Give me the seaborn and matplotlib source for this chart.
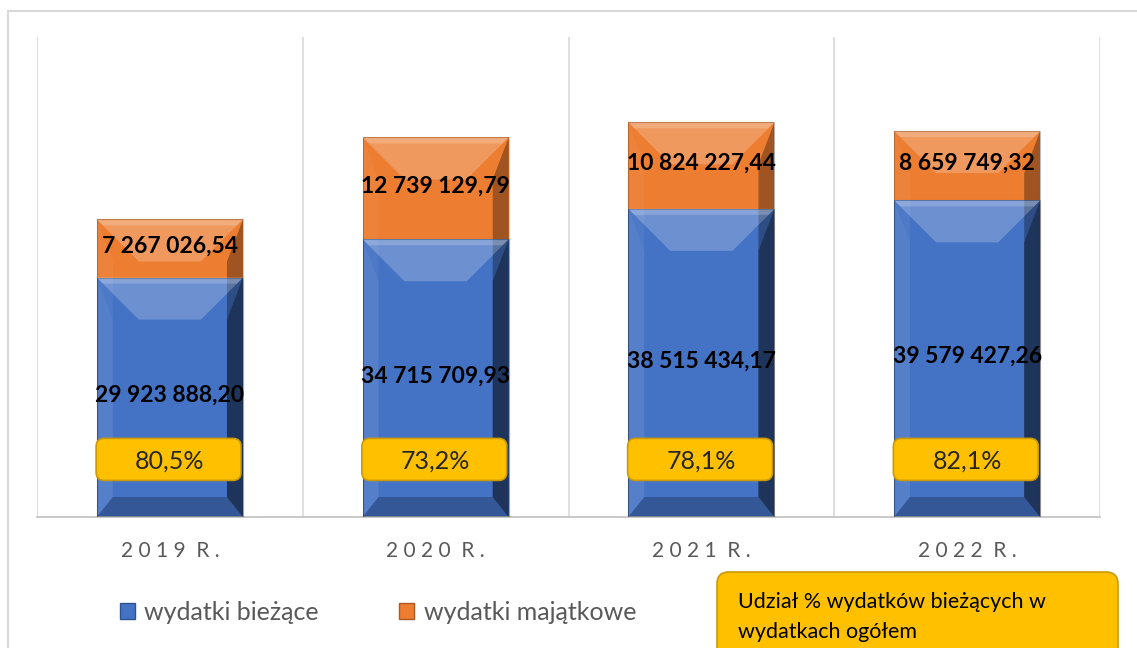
import matplotlib
matplotlib.use("Agg")
import matplotlib.pyplot as plt
import seaborn as sns
import pandas as pd
from matplotlib.patches import Polygon, FancyBboxPatch, Rectangle, Patch

years = ["2019 R.", "2020 R.", "2021 R.", "2022 R."]
biezace = [29923888.20, 34715709.93, 38515434.17, 39579427.26]
majatkowe = [7267026.54, 12739129.79, 10824227.44, 8659749.32]
udzial = ["80,5%", "73,2%", "78,1%", "82,1%"]

BLUE = "#4472C4"
ORANGE = "#ED7D31"
YELLOW = "#FFC000"
FONT = ["Lato", "DejaVu Sans"]


def fmt(v):
    s = f"{v:,.2f}"
    return s.replace(",", " ").replace(".", ",")


def bevel(ax, patch, px_x, px_y):
    x0, y0 = patch.get_x(), patch.get_y()
    w, h = patch.get_width(), patch.get_height()
    hpx = h / px_y
    d = min(42, hpx / 2.6)
    dx, dy = d * px_x, d * px_y
    sx = 16 * px_x
    by = min(20, hpx / 5) * px_y
    x1, y1 = x0 + w, y0 + h
    faces = [
        # top: lighter slope
        ([(x0, y1), (x1, y1), (x1 - dx, y1 - dy), (x0 + dx, y1 - dy)], "white", 0.22),
        # right: dark edge
        ([(x1, y1), (x1, y0), (x1 - sx, y0 + by), (x1 - sx, y1 - dy)], "black", 0.32),
        # bottom
        ([(x0, y0), (x1, y0), (x1 - sx, y0 + by), (x0 + sx, y0 + by)], "black", 0.12),
        # left
        ([(x0, y1), (x0, y0), (x0 + sx, y0 + by), (x0 + sx, y1 - dy)], "white", 0.05),
    ]
    for pts, c, a in faces:
        ax.add_patch(Polygon(pts, closed=True, fc=c, ec="none", alpha=a, zorder=3))
    # thin inner highlight along the top edge
    ax.add_patch(Polygon([(x0, y1), (x1, y1), (x1 - 6 * px_x, y1 - 6 * px_y),
                          (x0 + 6 * px_x, y1 - 6 * px_y)],
                         closed=True, fc="white", ec="none", alpha=0.18, zorder=3))
    ax.add_patch(Rectangle((x0, y0), w, h, fc="none", ec=(0, 0, 0, 0.2), lw=0.8, zorder=3))


if __name__ == "__main__":
    sns.set_theme(style="white")
    plt.rcParams["font.family"] = FONT

    df = pd.DataFrame({"rok": years, "biezace": biezace, "majatkowe": majatkowe})
    df["razem"] = df["biezace"] + df["majatkowe"]

    fig = plt.figure(figsize=(11.37, 6.48), dpi=100)
    W, H = 1137, 648
    ax = fig.add_axes([37 / W, 1 - 517 / H, (1100 - 37) / W, (517 - 37) / H])

    sns.barplot(data=df, x="rok", y="razem", color=ORANGE, width=0.55, saturation=1, ax=ax, zorder=2)
    sns.barplot(data=df, x="rok", y="biezace", color=BLUE, width=0.55, saturation=1, ax=ax, zorder=2)

    ax.set_xlim(-0.5, 3.5)
    ax.set_ylim(0, 60_000_000)
    px_x = 4 / (1100 - 37)
    px_y = 60_000_000 / (517 - 37)

    for p in ax.patches[:]:
        p.set_edgecolor("none")
        bevel(ax, p, px_x, px_y)

    # category gridlines
    for b in [-0.5, 0.5, 1.5, 2.5, 3.5]:
        ax.axvline(b, color="#D9D9D9", lw=1.2, zorder=1)
    for s in ["top", "right", "left"]:
        ax.spines[s].set_visible(False)
    ax.spines["bottom"].set_color("#BFBFBF")
    ax.spines["bottom"].set_linewidth(1.2)

    ax.set_yticks([])
    ax.set_xlabel("")
    ax.set_ylabel("")
    ax.set_xticks(range(len(years)))
    ax.set_xticklabels([" ".join(y.replace(" ", "")).replace(" R", "  R") for y in years],
                       color="#595959", fontsize=15)
    ax.tick_params(axis="x", length=0, pad=17)

    for i in range(len(years)):
        b, m = biezace[i], majatkowe[i]
        ax.text(i, b / 2 + 0.25e6, fmt(b), ha="center", va="center", fontsize=16.5,
                fontweight="bold", color="black", zorder=5)
        ax.text(i, b + m / 2 + 0.3e6, fmt(m), ha="center", va="center", fontsize=16.5,
                fontweight="bold", color="black", zorder=5)
        bw, bh = 0.545, 42 * px_y
        cy = 7.2e6
        box = FancyBboxPatch((i - bw / 2 - 0.005, cy - bh / 2), bw, bh,
                             boxstyle=f"round,pad=0,rounding_size={8 * px_x}",
                             mutation_aspect=px_y / px_x, fc=YELLOW, ec="#C99A06",
                             lw=1.2, zorder=4)
        ax.add_patch(box)
        ax.text(i, cy - 0.2e6, udzial[i], ha="center", va="center", fontsize=18,
                color="#262626", zorder=5)

    handles = [Patch(fc=BLUE, ec="#2F528F"), Patch(fc=ORANGE, ec="#B0581E")]
    fig.legend(handles, ["wydatki bieżące", "wydatki majątkowe"], loc="center left",
               bbox_to_anchor=(97 / W, 1 - 612 / H), ncol=2, frameon=False,
               fontsize=18, labelcolor="#595959", handlelength=0.6, handleheight=0.6,
               handletextpad=0.4, columnspacing=3.2)

    # note box bottom right
    note = FancyBboxPatch((717 / W, -20 / H), (1118 - 717) / W, (20 + 648 - 572) / H,
                          boxstyle=f"round,pad=0,rounding_size={12 / W}",
                          mutation_aspect=W / H, transform=fig.transFigure,
                          fc=YELLOW, ec="#C99A06", lw=1.2)
    fig.add_artist(note)
    fig.text(738 / W, 1 - 602 / H, "Udział % wydatków bieżących w", fontsize=15.5,
             color="black", va="center")
    fig.text(738 / W, 1 - 632 / H, "wydatkach ogółem", fontsize=15.5,
             color="black", va="center")

    frame = Rectangle((8 / W, -0.05), 1.1, 1 - 11 / H + 0.05, transform=fig.transFigure,
                      fc="none", ec="#D9D9D9", lw=1.5)
    fig.add_artist(frame)

    fig.savefig("out.png", dpi=100)
